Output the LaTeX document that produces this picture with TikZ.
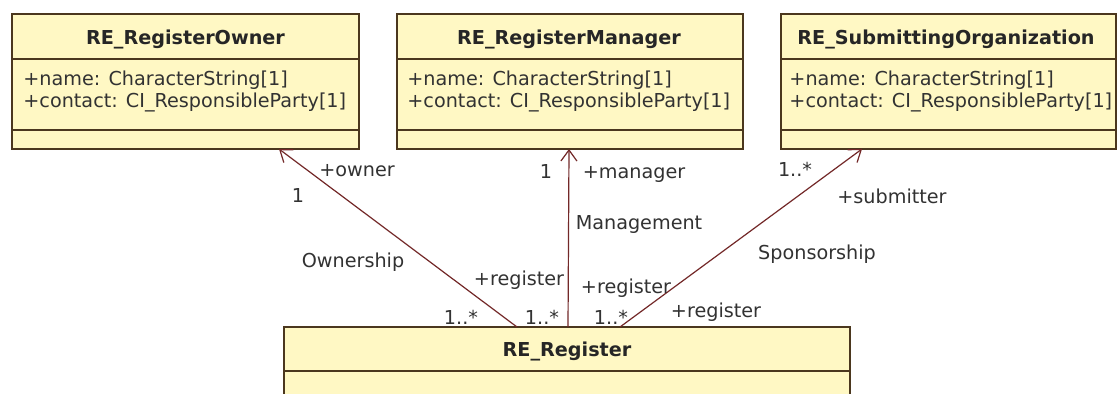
\documentclass[tikz,border=0pt]{standalone}
\usepackage{fontspec}
\setmainfont{DejaVu Sans}
\usetikzlibrary{arrows.meta}
\definecolor{boxfill}{RGB}{255,248,196}
\definecolor{boxline}{RGB}{75,55,30}
\definecolor{assoccol}{RGB}{115,40,40}
\definecolor{txt}{RGB}{50,50,50}
\begin{document}
\begin{tikzpicture}[x={(0.5pt,0pt)},y={(0pt,-0.5pt)},
  classbox/.style={draw=boxline, fill=boxfill, line width=0.8pt, inner sep=0pt, outer sep=0pt},
  divider/.style={draw=boxline, line width=0.8pt},
  classtitle/.style={font=\fontsize{9.6}{11.5}\bfseries, text=black!85, inner sep=0pt, anchor=base},
  attr/.style={font=\fontsize{9.6}{11.5}\selectfont, text=txt, inner sep=0pt, anchor=base west},
  lbl/.style={font=\fontsize{9.6}{11.5}\selectfont, text=txt, inner sep=0pt, anchor=base},
  assoc/.style={draw=assoccol, line width=0.6pt, -{Straight Barb[length=5.5pt,width=8pt]}}]
\clip (0,0) rectangle (1118,394);
\fill[white] (0,0) rectangle (1118,394);

% class boxes
\node[classbox, minimum width=173.5pt, minimum height=67.5pt] (owner) at (185.5,81.5) {};
\node[classbox, minimum width=173pt, minimum height=67.5pt] (manager) at (570,81.5) {};
\node[classbox, minimum width=167.5pt, minimum height=67.5pt] (submitter) at (948.5,81.5) {};
\node[classbox, minimum width=283pt, minimum height=46.5pt] (register) at (567,373.5) {};

\foreach \b in {owner,manager,submitter}{
  \draw[divider] ([yshift=-22.5pt]\b.north west) -- ([yshift=-22.5pt]\b.north east);
  \draw[divider] ([yshift=-58pt]\b.north west) -- ([yshift=-58pt]\b.north east);
}
\draw[divider] ([yshift=-22pt]register.north west) -- ([yshift=-22pt]register.north east);

% titles
\node[classtitle] (ownerT) at (185.5,45) {RE\_RegisterOwner};
\node[classtitle] (managerT) at (569,45) {RE\_RegisterManager};
\node[classtitle] (submitterT) at (946,45) {RE\_SubmittingOrganization};
\node[classtitle] (registerT) at (567,357) {RE\_Register};

% attributes
\node[attr] (ownerA1) at (23,86) {+name: CharacterString[1]};
\node[attr] (ownerA2) at (23,108) {+contact: CI\_ResponsibleParty[1]};
\node[attr] (managerA1) at (407,86) {+name: CharacterString[1]};
\node[attr] (managerA2) at (407,108) {+contact: CI\_ResponsibleParty[1]};
\node[attr] (submitterA1) at (789,86) {+name: CharacterString[1]};
\node[attr] (submitterA2) at (789,108) {+contact: CI\_ResponsibleParty[1]};

% association end points
\coordinate (ownS) at (517,327);
\coordinate (ownE) at (279,149);
\coordinate (manS) at (568,327);
\coordinate (manE) at (569,149);
\coordinate (subS) at (620,327);
\coordinate (subE) at (862,149);

\draw[assoc] (ownS) -- (ownE);
\draw[assoc] (manS) -- (manE);
\draw[assoc] (subS) -- (subE);

% labels
\node[lbl] (l1) at (357,177) {+owner};
\node[lbl] (l2) at (298,203) {1};
\node[lbl] (l3) at (353,268) {Ownership};
\node[lbl] (l4) at (519,286) {+register};
\node[lbl] (l5) at (461,325) {1..*};
\node[lbl] (l6) at (542,325) {1..*};
\node[lbl] (l7) at (546,179) {1};
\node[lbl] (l8) at (634,179) {+manager};
\node[lbl] (l9) at (639,230) {Management};
\node[lbl] (l10) at (626,294) {+register};
\node[lbl] (l11) at (611,325) {1..*};
\node[lbl] (l12) at (716,318) {+register};
\node[lbl] (l13) at (817,260) {Sponsorship};
\node[lbl] (l14) at (795,177) {1..*};
\node[lbl] (l15) at (892,204) {+submitter};
\end{tikzpicture}
\end{document}
